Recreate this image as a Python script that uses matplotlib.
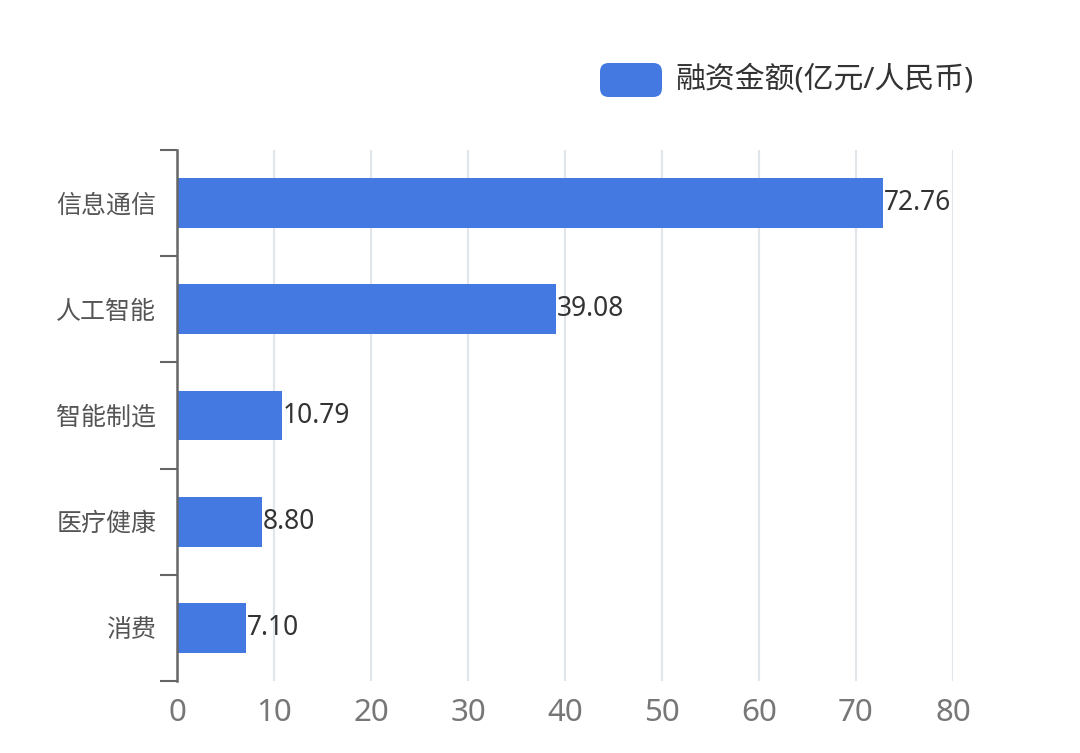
import matplotlib
matplotlib.use("Agg")
import matplotlib.pyplot as plt
from matplotlib.patches import FancyBboxPatch

plt.rcParams['font.family'] = ['Noto Sans', 'Noto Sans CJK SC', 'DejaVu Sans']

# --- data ---
categories = ['信息通信', '人工智能', '智能制造', '医疗健康', '消费']
amounts = [72.76, 39.08, 10.79, 8.80, 7.10]
x_ticks = [0, 10, 20, 30, 40, 50, 60, 70, 80]
series_name = '融资金额(亿元/人民币)'

bar_color = '#4479E1'

fig = plt.figure(figsize=(10.8, 7.53), dpi=100)
ax = fig.add_axes([0.1639, 0.0956, 0.7185, 0.7052])

pos = list(range(len(categories)))
bars = ax.barh(pos, amounts, height=0.47, color=bar_color, zorder=3)
ax.bar_label(bars, labels=[f'{v:.2f}' for v in amounts], padding=0.5,
             fontsize=19, color='#333333')

ax.set_ylim(len(categories) - 0.5, -0.5)
ax.set_xlim(0, 80)

# category boundaries as major ticks, names at centers
ax.set_yticks([i - 0.5 for i in range(len(categories) + 1)])
ax.set_yticklabels([])
ax.set_yticks(pos, minor=True)
ax.set_yticklabels(categories, minor=True)
ax.tick_params(axis='y', which='major', length=12, width=1.5, color='#666666')
ax.tick_params(axis='y', which='minor', length=0, pad=15, labelsize=18, labelcolor='#555555')

ax.set_xticks(x_ticks)
ax.tick_params(axis='x', length=0, pad=12, labelsize=22.5, labelcolor='#777777')
ax.grid(axis='x', color='#E0E6EA', linewidth=1.5, zorder=0)

for s in ['top', 'right', 'bottom']:
    ax.spines[s].set_visible(False)
ax.spines['left'].set_color('#666666')
ax.spines['left'].set_linewidth(1.8)
ax.spines['left'].set_zorder(4)

# legend
leg_box = FancyBboxPatch((600 / 1080, 1 - 97 / 753), 62 / 1080, 34 / 753,
                         boxstyle='round,pad=0,rounding_size=0.008',
                         transform=fig.transFigure, facecolor=bar_color,
                         edgecolor='none', mutation_aspect=1080 / 753)
fig.patches.append(leg_box)
fig.text(675 / 1080, 1 - 80 / 753, series_name, fontsize=21.5, color='#333333',
         va='center', ha='left')

fig.savefig('out.png', dpi=100, facecolor='white')
